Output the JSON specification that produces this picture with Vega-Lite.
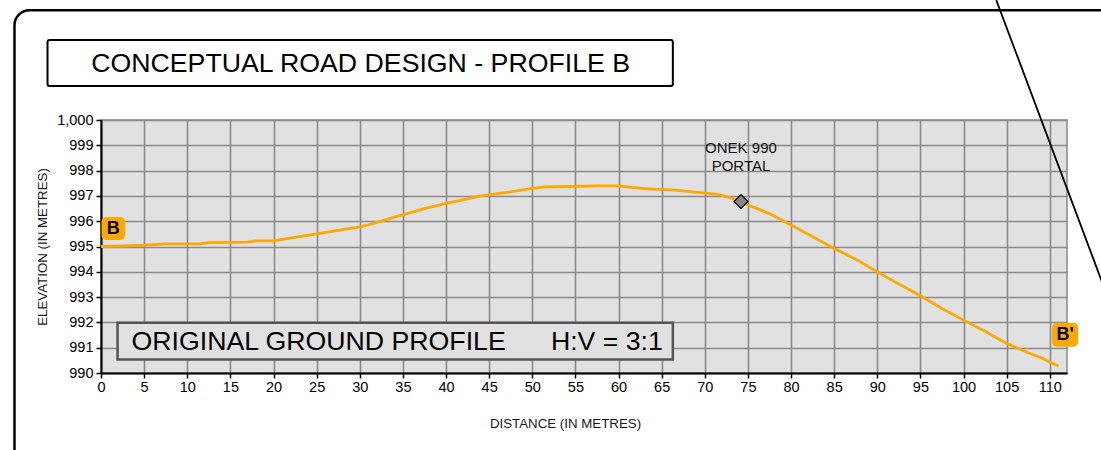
{
  "$schema": "https://vega.github.io/schema/vega-lite/v6.json",
  "width": 966,
  "height": 253,
  "autosize": {"type": "none"},
  "padding": {"left": 101, "top": 120, "right": 34, "bottom": 77},
  "background": "white",
  "config": {
    "font": "Liberation Sans",
    "view": {"fill": "#e1e1e1", "stroke": "#8a8a8a", "strokeWidth": 1.5},
    "axis": {
      "gridColor": "#8a8a8a", "gridWidth": 1.6, "gridOpacity": 1,
      "domainColor": "black", "domainWidth": 2,
      "tickColor": "black", "tickWidth": 1.5, "tickSize": 5,
      "labelFont": "Liberation Sans", "labelFontSize": 14.5, "labelColor": "black", "labelOverlap": false, "labelFlush": false,
      "titleFont": "Liberation Sans", "titleFontSize": 13.3, "titleFontWeight": "normal", "titleColor": "#1a1a1a"
    }
  },
  "datasets": {
    "profile": [
      {"d": 0, "elev": 995.0}, {"d": 2.5, "elev": 995.02}, {"d": 5, "elev": 995.05}, {"d": 7.5, "elev": 995.1},
      {"d": 10, "elev": 995.1}, {"d": 11.5, "elev": 995.1}, {"d": 12.5, "elev": 995.15}, {"d": 15, "elev": 995.16},
      {"d": 17, "elev": 995.17}, {"d": 18, "elev": 995.22}, {"d": 20, "elev": 995.22}, {"d": 22.5, "elev": 995.36},
      {"d": 25, "elev": 995.5}, {"d": 27.5, "elev": 995.64}, {"d": 30, "elev": 995.78}, {"d": 31, "elev": 995.86},
      {"d": 32.5, "elev": 996.0}, {"d": 34, "elev": 996.16}, {"d": 35, "elev": 996.25}, {"d": 37.5, "elev": 996.5},
      {"d": 40, "elev": 996.7}, {"d": 42.5, "elev": 996.88}, {"d": 44, "elev": 997.0}, {"d": 45, "elev": 997.04},
      {"d": 47.5, "elev": 997.16}, {"d": 50, "elev": 997.3}, {"d": 51.5, "elev": 997.36}, {"d": 55, "elev": 997.38},
      {"d": 57.5, "elev": 997.4}, {"d": 60, "elev": 997.4}, {"d": 61.5, "elev": 997.34}, {"d": 63.5, "elev": 997.28},
      {"d": 66.5, "elev": 997.23}, {"d": 69.5, "elev": 997.13}, {"d": 71.5, "elev": 997.06}, {"d": 73, "elev": 996.92},
      {"d": 74.2, "elev": 996.78}, {"d": 75, "elev": 996.64}, {"d": 76.8, "elev": 996.4}, {"d": 77.6, "elev": 996.28},
      {"d": 80, "elev": 995.85}, {"d": 83, "elev": 995.3}, {"d": 85, "elev": 994.92}, {"d": 87.5, "elev": 994.5},
      {"d": 90, "elev": 994.0}, {"d": 91, "elev": 993.8}, {"d": 95, "elev": 993.05}, {"d": 97.5, "elev": 992.55},
      {"d": 100, "elev": 992.09}, {"d": 102.5, "elev": 991.65}, {"d": 105, "elev": 991.17}, {"d": 107.5, "elev": 990.8},
      {"d": 109, "elev": 990.6}, {"d": 111, "elev": 990.28}
    ],
    "frame": [{"d": -10.03, "d2": 130, "elev": 1004.34, "elev2": 984}],
    "diag": [{"d": 103.8, "elev": 1004.74, "d2": 116.4, "elev2": 993.29}],
    "titlebox": [{"d": -6.2, "d2": 66.3, "elev": 1003.16, "elev2": 1001.34}],
    "titletext": [{"d": 30.1, "elev": 1002.22, "label": "CONCEPTUAL ROAD DESIGN - PROFILE B"}],
    "notebox": [{"d": 1.92, "d2": 66.3, "elev": 991.99, "elev2": 990.53}],
    "notetext": [
      {"d": 3.54, "elev": 991.23, "label": "ORIGINAL GROUND PROFILE"},
      {"d": 52.16, "elev": 991.23, "label": "H:V = 3:1"}
    ],
    "endbox": [
      {"d": 0.06, "d2": 2.8, "elev": 996.17, "elev2": 995.26},
      {"d": 110.27, "d2": 113.29, "elev": 991.99, "elev2": 991.04}
    ],
    "endtext": [
      {"d": 1.43, "elev": 995.7, "label": "B"},
      {"d": 111.78, "elev": 991.5, "label": "B'"}
    ],
    "portal": [{"d": 74.2, "elev": 996.78}],
    "portaltext": [
      {"d": 74.2, "elev": 998.9, "label": "ONEK 990"},
      {"d": 74.2, "elev": 998.2, "label": "PORTAL"}
    ]
  },
  "encoding": {
    "x": {"field": "d", "type": "quantitative", "scale": {"domain": [0, 112], "nice": false, "zero": false},
          "axis": {"values": [0,5,10,15,20,25,30,35,40,45,50,55,60,65,70,75,80,85,90,95,100,105,110], "format": "d", "title": "DISTANCE (IN METRES)", "titlePadding": 23, "titleX": 464, "labelPadding": 2}},
    "y": {"field": "elev", "type": "quantitative", "scale": {"domain": [990, 1000], "nice": false, "zero": false},
          "axis": {"values": [990,991,992,993,994,995,996,997,998,999,1000], "format": ",", "labelExpr": "format(datum.value, ',')", "title": "ELEVATION (IN METRES)", "titlePadding": 7, "labelPadding": 3}}
  },
  "layer": [
    {
      "data": {"name": "profile"},
      "mark": {"type": "line", "color": "#FFA800", "strokeWidth": 2.8}
    },
    {
      "data": {"name": "frame"},
      "mark": {"type": "rect", "fill": null, "fillOpacity": 0, "stroke": "black", "strokeWidth": 2.5, "cornerRadius": 15, "clip": false},
      "encoding": {"x2": {"field": "d2"}, "y2": {"field": "elev2"}}
    },
    {
      "data": {"name": "diag"},
      "mark": {"type": "rule", "color": "black", "strokeWidth": 1.8},
      "encoding": {"x2": {"field": "d2"}, "y2": {"field": "elev2"}}
    },
    {
      "data": {"name": "titlebox"},
      "mark": {"type": "rect", "fill": "white", "stroke": "black", "strokeWidth": 2, "cornerRadius": 2},
      "encoding": {"x2": {"field": "d2"}, "y2": {"field": "elev2"}}
    },
    {
      "data": {"name": "titletext"},
      "mark": {"type": "text", "fontSize": 26.7, "align": "center", "baseline": "middle", "color": "black"},
      "encoding": {"text": {"field": "label"}}
    },
    {
      "data": {"name": "notebox"},
      "mark": {"type": "rect", "fill": "#e1e1e1", "stroke": "#555", "strokeWidth": 2.5},
      "encoding": {"x2": {"field": "d2"}, "y2": {"field": "elev2"}}
    },
    {
      "data": {"name": "notetext"},
      "mark": {"type": "text", "fontSize": 26.7, "align": "left", "baseline": "middle", "color": "black"},
      "encoding": {"text": {"field": "label"}}
    },
    {
      "data": {"name": "endbox"},
      "mark": {"type": "rect", "fill": "#FFA800", "cornerRadius": 5},
      "encoding": {"x2": {"field": "d2"}, "y2": {"field": "elev2"}}
    },
    {
      "data": {"name": "endtext"},
      "mark": {"type": "text", "fontSize": 18, "fontWeight": "bold", "align": "center", "baseline": "middle", "color": "black"},
      "encoding": {"text": {"field": "label"}}
    },
    {
      "data": {"name": "portal"},
      "mark": {"type": "point", "shape": "diamond", "size": 190, "filled": true, "fill": "#888", "stroke": "black", "strokeWidth": 1.2, "opacity": 1}
    },
    {
      "data": {"name": "portaltext"},
      "mark": {"type": "text", "fontSize": 15, "align": "center", "baseline": "middle", "color": "#111"},
      "encoding": {"text": {"field": "label"}}
    }
  ]
}
